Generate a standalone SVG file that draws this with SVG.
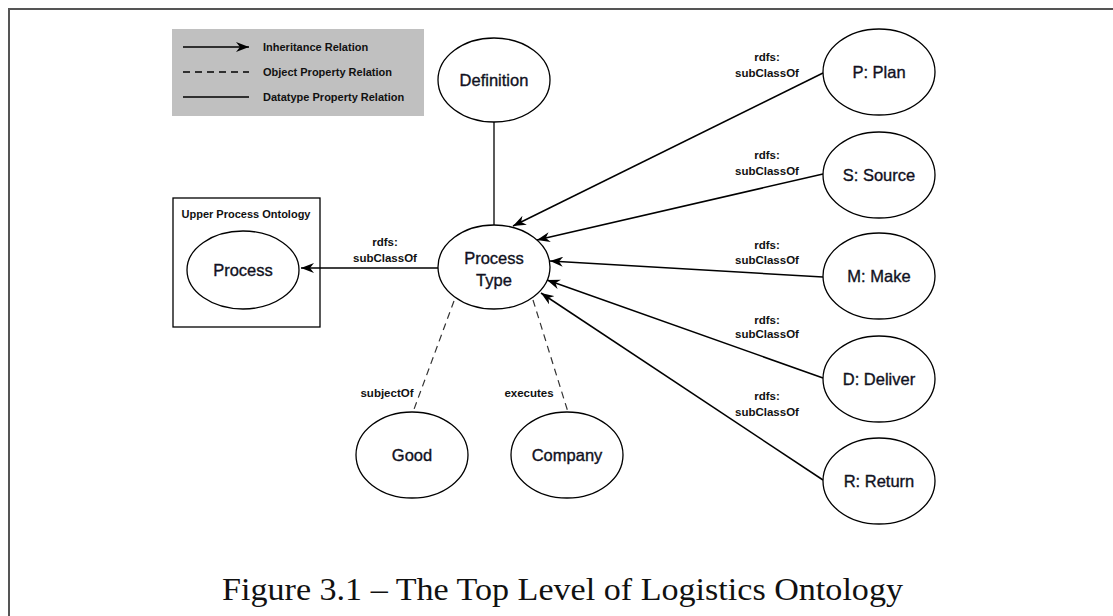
<svg xmlns="http://www.w3.org/2000/svg" width="1113" height="616" viewBox="0 0 1113 616">
<defs>
<marker id="arr" markerWidth="14" markerHeight="10" refX="13" refY="5" orient="auto" markerUnits="userSpaceOnUse">
<path d="M0,0 L13,5 L0,10 L4,5 z" fill="#000"/>
</marker>
<style>
.node ellipse{fill:#fff;stroke:#000;stroke-width:1.3}
.nt{font-family:"Liberation Sans",Arial,sans-serif;font-size:16.5px;fill:#111122;stroke:#111122;stroke-width:0.35;text-anchor:middle}
.lb{font-family:"Liberation Sans",Arial,sans-serif;font-size:11.5px;font-weight:bold;fill:#111;text-anchor:middle}
.lg{font-family:"Liberation Sans",Arial,sans-serif;font-size:11px;font-weight:bold;fill:#111}
.inh{stroke:#000;stroke-width:1.5;fill:none;marker-end:url(#arr)}
.obj{stroke:#333;stroke-width:1.2;fill:none;stroke-dasharray:7,5}
.dat{stroke:#000;stroke-width:1.3;fill:none}
</style>
</defs>
<rect width="1113" height="616" fill="#fff"/>
<path d="M9,616 V9 H1113" fill="none" stroke="#555" stroke-width="2"/>

<g id="legend">
<rect x="172" y="29" width="252" height="87" fill="#c0c0c0"/>
<line x1="183" y1="47" x2="249" y2="47" class="inh"/>
<line x1="183" y1="72" x2="249" y2="72" style="stroke:#000;stroke-width:1.4;stroke-dasharray:7,5"/>
<line x1="183" y1="97" x2="249" y2="97" class="dat"/>
<text x="263" y="51" class="lg">Inheritance Relation</text>
<text x="263" y="76" class="lg">Object Property Relation</text>
<text x="263" y="101" class="lg">Datatype Property Relation</text>
</g>

<g id="connectors">
<line x1="494" y1="122" x2="494" y2="225" class="dat"/>
<line x1="438" y1="268" x2="301" y2="268" class="inh"/>
<line x1="823" y1="73" x2="513" y2="226" class="inh"/>
<line x1="823" y1="174" x2="537" y2="240" class="inh"/>
<line x1="823" y1="277" x2="550" y2="261" class="inh"/>
<line x1="823" y1="378" x2="547" y2="280" class="inh"/>
<line x1="823" y1="480" x2="541" y2="293" class="inh"/>
<line x1="454" y1="301" x2="413" y2="412" class="obj"/>
<line x1="533" y1="300" x2="568" y2="412" class="obj"/>
<text x="385" y="246" class="lb">rdfs:</text>
<text x="385" y="262" class="lb">subClassOf</text>
<text x="767" y="61" class="lb">rdfs:</text>
<text x="767" y="77" class="lb">subClassOf</text>
<text x="767" y="159" class="lb">rdfs:</text>
<text x="767" y="175" class="lb">subClassOf</text>
<text x="767" y="249" class="lb">rdfs:</text>
<text x="767" y="264" class="lb">subClassOf</text>
<text x="767" y="324" class="lb">rdfs:</text>
<text x="767" y="338" class="lb">subClassOf</text>
<text x="767" y="400" class="lb">rdfs:</text>
<text x="767" y="416" class="lb">subClassOf</text>
<text x="387" y="397" class="lb">subjectOf</text>
<text x="529" y="397" class="lb">executes</text>
</g>

<g id="upper-process-ontology">
<rect x="173" y="198" width="147" height="129" fill="none" stroke="#000" stroke-width="1.3"/>
<text x="246" y="218" class="lb" style="font-size:11px">Upper Process Ontology</text>
</g>
<g id="process" class="node"><ellipse cx="243" cy="270" rx="56" ry="39"/><text x="243" y="276" class="nt">Process</text></g>
<g id="definition" class="node"><ellipse cx="494" cy="80" rx="56" ry="42"/><text x="494" y="86" class="nt">Definition</text></g>
<g id="process-type" class="node"><ellipse cx="494" cy="267" rx="56" ry="42"/><text x="494" y="264" class="nt">Process</text><text x="494" y="286" class="nt">Type</text></g>
<g id="good" class="node"><ellipse cx="412" cy="455" rx="56" ry="43"/><text x="412" y="461" class="nt">Good</text></g>
<g id="company" class="node"><ellipse cx="567" cy="455" rx="56" ry="43"/><text x="567" y="461" class="nt">Company</text></g>
<g id="plan" class="node"><ellipse cx="879" cy="72" rx="56" ry="43"/><text x="879" y="78" class="nt">P: Plan</text></g>
<g id="source" class="node"><ellipse cx="879" cy="175" rx="56" ry="43"/><text x="879" y="181" class="nt">S: Source</text></g>
<g id="make" class="node"><ellipse cx="879" cy="276" rx="56" ry="43"/><text x="879" y="282" class="nt">M: Make</text></g>
<g id="deliver" class="node"><ellipse cx="879" cy="379" rx="56" ry="43"/><text x="879" y="385" class="nt">D: Deliver</text></g>
<g id="return" class="node"><ellipse cx="879" cy="481" rx="56" ry="43"/><text x="879" y="487" class="nt">R: Return</text></g>

<text x="222" y="600" textLength="681" lengthAdjust="spacingAndGlyphs" style="font-family:'Liberation Serif','Times New Roman',serif;font-size:32px;fill:#111">Figure 3.1 – The Top Level of Logistics Ontology</text>
</svg>
